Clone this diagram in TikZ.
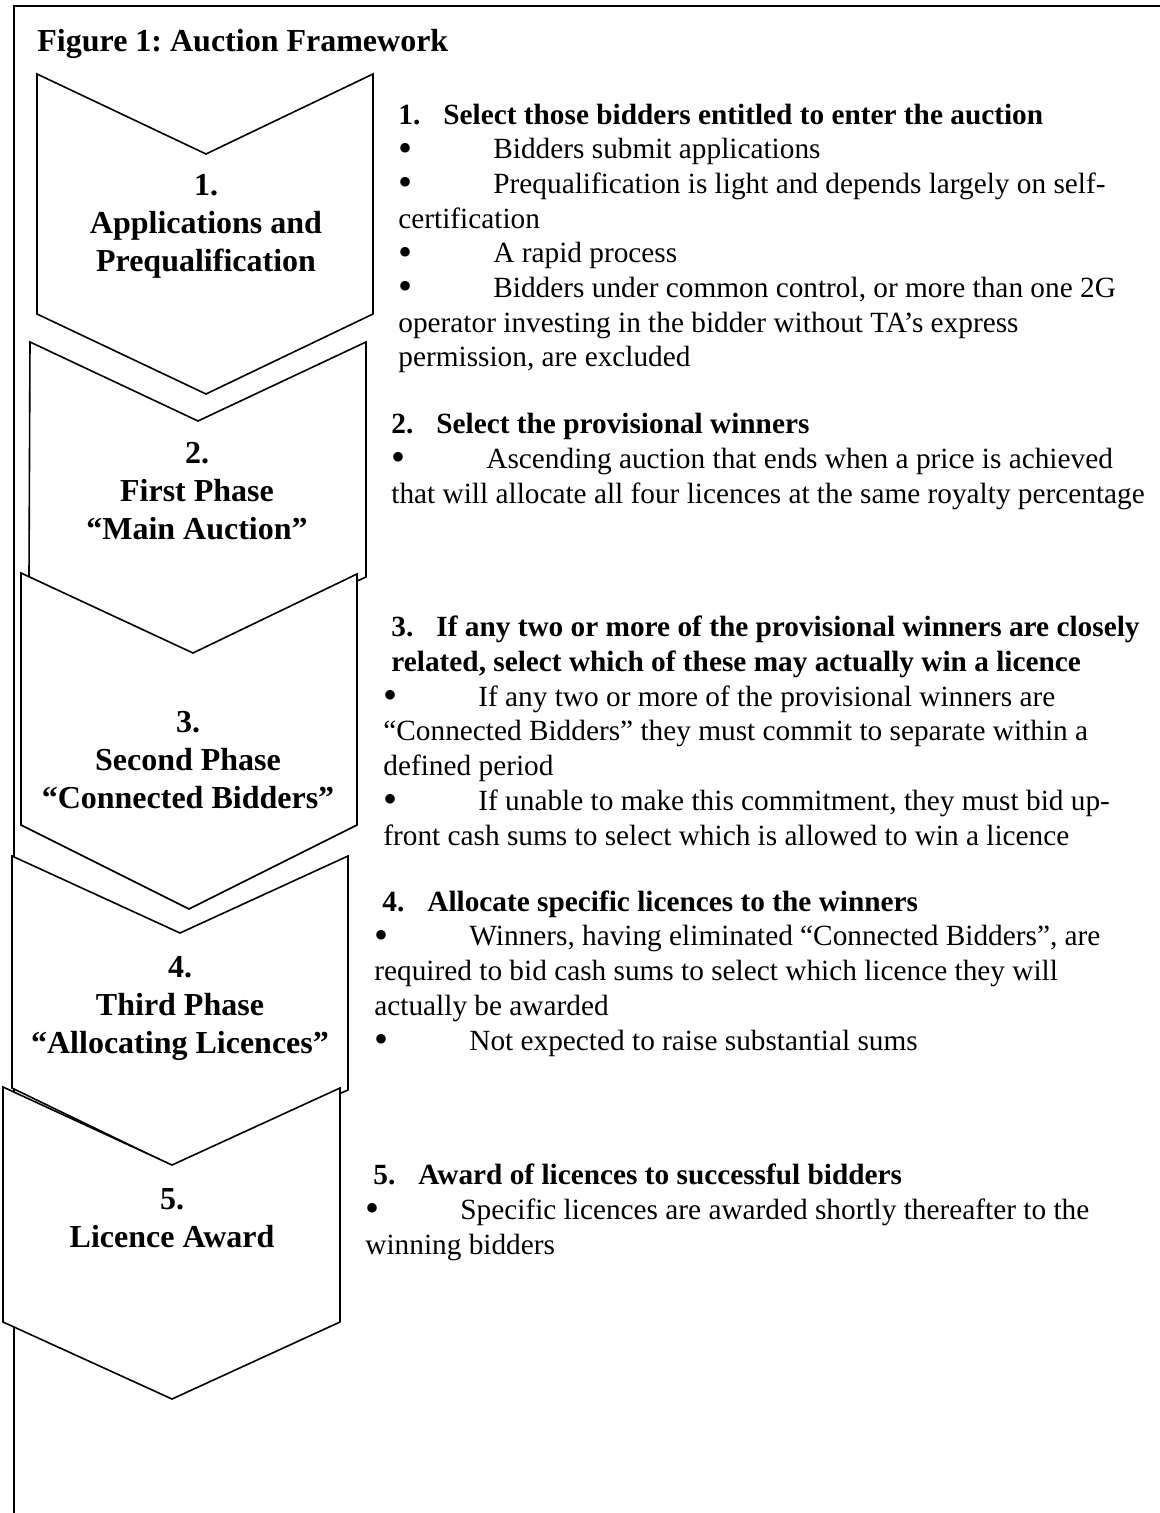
\documentclass[tikz,border=0pt]{standalone}
\usepackage{fontspec}
\setmainfont{Liberation Serif}
\frenchspacing
\tikzset{
  chev/.style={draw=black,fill=white,line width=0.8pt,line join=miter},
  phase/.style={font=\bfseries\fontsize{16}{19}\selectfont,align=center,inner sep=0pt,anchor=base},
  note/.style={font=\fontsize{14.65}{17.35}\selectfont,align=left,inner sep=0pt,anchor=base west}
}
\newcommand{\bul}{\makebox[47.5pt][l]{\raisebox{-1.2pt}{\fontsize{20}{20}\selectfont\textbullet}}}
\newcommand{\hd}[2]{\textbf{\makebox[22.5pt][l]{#1}#2}}

\begin{document}
\begin{tikzpicture}[x=0.5pt,y=-0.5pt]
\useasboundingbox (0,0) rectangle (1160,1513);

% Frame
\draw[line width=1pt] (1160,6) -- (14,6) -- (14,1513);
\node[anchor=base west,inner sep=0pt,font=\bfseries\fontsize{16}{19}\selectfont] (title) at (37,52) {Figure 1: Auction Framework};

% Chevrons
\filldraw[chev] (37,74) -- (206,154) -- (373,74) -- (373,314) -- (206,394) -- (37,314) -- cycle;
\filldraw[chev] (30,342) -- (198,421) -- (366,342) -- (366,577) -- (190,658) -- (29,577) -- cycle;
\filldraw[chev] (21,573) -- (193,653) -- (357,574) -- (357,825) -- (189,909) -- (21,825) -- cycle;
\filldraw[chev] (12,856) -- (180,933) -- (348,856) -- (348,1090) -- (173,1166) -- (12,1088) -- cycle;
\filldraw[chev] (3,1087) -- (172,1165) -- (340,1088) -- (340,1322) -- (172,1399) -- (3,1322) -- cycle;

% Phase labels (anchored on the last line)
\node[phase] (ph1) at (206,272) {1.\\Applications and\\Prequalification};
\node[phase] (ph2) at (197,539) {2.\\First Phase\\“Main Auction”};
\node[phase] (ph3) at (188,808) {3.\\Second Phase\\“Connected Bidders”};
\node[phase] (ph4) at (180,1053) {4.\\Third Phase\\“Allocating Licences”};
\node[phase] (ph5) at (172,1247) {5.\\Licence Award};

% Notes (anchored on the last line)
\node[note] (note1) at (398,367) {\hd{1.}{Select those bidders entitled to enter the auction}\\
\bul Bidders submit applications\\
\bul Prequalification is light and depends largely on self-\\
certification\\
\bul A rapid process\\
\bul Bidders under common control, or more than one 2G\\
operator investing in the bidder without TA’s express\\
permission, are excluded};

\node[note] (note2) at (391,503) {\hd{2.}{Select the provisional winners}\\
\bul Ascending auction that ends when a price is achieved\\
that will allocate all four licences at the same royalty percentage};

\node[note] (note3) at (383,845) {\hspace*{4pt}\hd{3.}{If any two or more of the provisional winners are closely}\\
\hspace*{4pt}\textbf{related, select which of these may actually win a licence}\\
\bul If any two or more of the provisional winners are\\
“Connected Bidders” they must commit to separate within a\\
defined period\\
\bul If unable to make this commitment, they must bid up-\\
front cash sums to select which is allowed to win a licence};

\node[note] (note4) at (374,1050) {\hspace*{4pt}\hd{4.}{Allocate specific licences to the winners}\\
\bul Winners, having eliminated “Connected Bidders”, are\\
required to bid cash sums to select which licence they will\\
actually be awarded\\
\bul Not expected to raise substantial sums};

\node[note] (note5) at (365,1254) {\hspace*{4pt}\hd{5.}{Award of licences to successful bidders}\\
\bul Specific licences are awarded shortly thereafter to the\\
winning bidders};
\end{tikzpicture}
\end{document}
